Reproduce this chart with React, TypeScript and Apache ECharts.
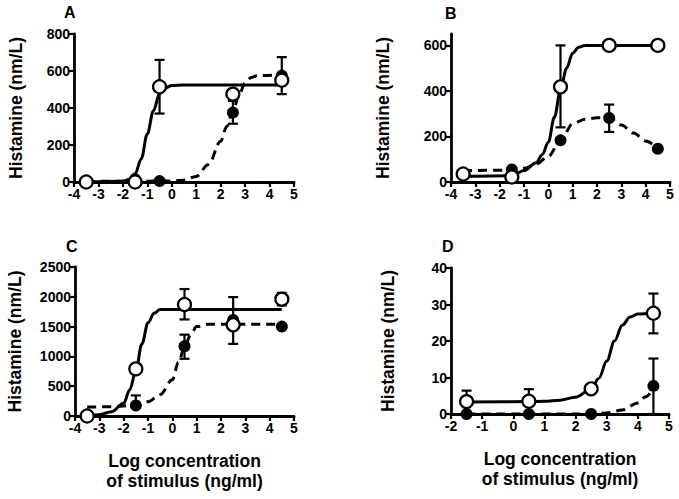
import React, { useEffect, useRef } from "react";
import * as echarts from "echarts";

// ---------- Panel A ----------
const xOpenA = [-3.5, -1.5, -0.5, 2.5, 4.5];
const yOpenA = [0, 0, 515, 475, 550];
const xFilledA = [-1.5, -0.5, 2.5, 4.5];
const yFilledA = [15, 5, 375, 575];
const errA = [
  [-0.5, 370, 660],
  [2.5, 315, 438],
  [4.5, 475, 675],
];
const curveSolidXA = [-3.5, -2, -1.75, -1.5, -1.25, -1, -0.75, -0.5, -0.25, 0, 0.5, 4.5];
const curveSolidYA = [0, 4, 14, 44, 125, 260, 385, 478, 510, 521, 525, 525];
const curveDashXA = [-3.5, 0, 0.5, 1, 1.5, 2, 2.25, 2.5, 2.75, 3, 3.25, 3.5, 4.5];
const curveDashYA = [3, 5, 10, 30, 95, 220, 300, 380, 470, 535, 565, 575, 578];

// ---------- Panel B ----------
const xOpenB = [-3.5, -1.5, 0.5, 2.5, 4.5];
const yOpenB = [35, 22, 418, 600, 600];
const xFilledB = [-1.5, 0.5, 2.5, 4.5];
const yFilledB = [55, 183, 281, 146];
const errB = [
  [0.5, 240, 600],
  [2.5, 220, 340],
];
const curveSolidXB = [-3.5, -1.5, -1, -0.5, -0.25, 0, 0.25, 0.5, 0.75, 1, 1.25, 1.5, 4.5];
const curveSolidYB = [25, 28, 50, 85, 120, 175, 285, 405, 500, 566, 592, 599, 600];
const curveDashXB = [-3.5, -1.5, -1, -0.5, 0, 0.5, 1, 1.5, 2, 2.5, 3, 3.5, 4, 4.5];
const curveDashYB = [50, 52, 60, 78, 113, 183, 255, 276, 282, 281, 250, 215, 180, 146];

// ---------- Panel C ----------
const xOpenC = [-3.5, -1.5, 0.5, 2.5, 4.5];
const yOpenC = [0, 790, 1870, 1530, 1960];
const xFilledC = [-1.5, 0.5, 2.5, 4.5];
const yFilledC = [175, 1170, 1610, 1500];
const errC = [
  [-1.5, 175, 345],
  [0.5, 1620, 2130],
  [0.5, 960, 1365],
  [2.5, 1210, 1995],
  [4.5, 1855, 2065],
];
const curveSolidXC = [-3.5, -3, -2.5, -2, -1.75, -1.5, -1.25, -1, -0.75, -0.5, 4.5];
const curveSolidYC = [3, 22, 70, 215, 440, 760, 1210, 1565, 1725, 1785, 1788];
const curveDashXC = [-3.5, -2.5, -1.5, -1, -0.5, 0, 0.25, 0.5, 0.75, 1, 1.5, 4.5];
const curveDashYC = [150, 155, 180, 240, 360, 610, 900, 1150, 1360, 1500, 1540, 1540];

// ---------- Panel D ----------
const xOpenD = [-1.5, 0.5, 2.5, 4.5];
const yOpenD = [3.4, 3.5, 6.9, 27.6];
const xFilledD = [-1.5, 0.5, 2.5, 4.5];
const yFilledD = [0, 0, 0, 7.7];
const errD = [
  [-1.5, 3.4, 6.4],
  [0.5, 3.5, 6.8],
  [4.5, 22.1, 33],
  [4.5, 0, 15.2],
];
const curveSolidXD = [-1.5, 0.5, 1, 1.5, 2, 2.5, 2.75, 3, 3.25, 3.5, 3.75, 4, 4.5];
const curveSolidYD = [3.3, 3.4, 3.5, 3.8, 4.6, 6.8, 9.8, 14.5, 20, 24.3, 26.6, 27.4, 27.7];
const curveDashXD = [-1.5, 2.5, 3, 3.5, 4, 4.25, 4.5];
const curveDashYD = [0, 0, 0.3, 1.1, 3, 4.7, 7];

// ---------- Axes / labels ----------
const panelLetters = ["A", "B", "C", "D"];
const yTicksA = [0, 200, 400, 600, 800];
const yTicksB = [0, 200, 400, 600];
const yTicksC = [0, 500, 1000, 1500, 2000, 2500];
const yTicksD = [0, 10, 20, 30, 40];
const xTicksABC = [-4, -3, -2, -1, 0, 1, 2, 3, 4, 5];
const xTicksD = [-2, -1, 0, 1, 2, 3, 4, 5];
const yName = "Histamine (nm/L)";
const xName = "Log concentration\nof stimulus (ng/ml)";

const FONT = "'Liberation Sans', Arial, sans-serif";

const zip = (xs: number[], ys: number[]) => xs.map((x, i) => [x, ys[i]]);

const panels = [
  {
    xOpen: xOpenA, yOpen: yOpenA, xFilled: xFilledA, yFilled: yFilledA, err: errA,
    sx: curveSolidXA, sy: curveSolidYA, dx: curveDashXA, dy: curveDashYA,
    yTicks: yTicksA, yMax: 800, xTicks: xTicksABC, xMin: -4,
    grid: { left: 74, top: 34, width: 220, height: 148 }, nameGap: 49, xName: "",
  },
  {
    xOpen: xOpenB, yOpen: yOpenB, xFilled: xFilledB, yFilled: yFilledB, err: errB,
    sx: curveSolidXB, sy: curveSolidYB, dx: curveDashXB, dy: curveDashYB,
    yTicks: yTicksB, yMax: 650, xTicks: xTicksABC, xMin: -4,
    grid: { left: 451, top: 34, width: 219, height: 148 }, nameGap: 59, xName: "",
  },
  {
    xOpen: xOpenC, yOpen: yOpenC, xFilled: xFilledC, yFilled: yFilledC, err: errC,
    sx: curveSolidXC, sy: curveSolidYC, dx: curveDashXC, dy: curveDashYC,
    yTicks: yTicksC, yMax: 2500, xTicks: xTicksABC, xMin: -4,
    grid: { left: 75, top: 267, width: 219, height: 149 }, nameGap: 51, xName: xName,
  },
  {
    xOpen: xOpenD, yOpen: yOpenD, xFilled: xFilledD, yFilled: yFilledD, err: errD,
    sx: curveSolidXD, sy: curveSolidYD, dx: curveDashXD, dy: curveDashYD,
    yTicks: yTicksD, yMax: 40, xTicks: xTicksD, xMin: -2,
    grid: { left: 451, top: 268, width: 218, height: 146 }, nameGap: 54, xName: xName,
  },
];

const titlePos = [
  { left: 64, top: 4 },
  { left: 445, top: 5 },
  { left: 66, top: 238 },
  { left: 442, top: 238 },
];

export default function App() {
  const ref = useRef<HTMLDivElement>(null);
  useEffect(() => {
    if (!ref.current) return;
    const chart = echarts.init(ref.current, undefined, { renderer: "svg" });
    const axisLine = { show: true, onZero: false, lineStyle: { color: "#000", width: 2.8 } };
    const axisTick = (vals: number[]) => ({
      show: true, inside: false, length: 5, customValues: vals,
      lineStyle: { color: "#000", width: 2.2 },
    });
    const labelStyle = { color: "#000", fontFamily: FONT, fontWeight: "bold" as const, fontSize: 14 };

    const grid: any[] = [];
    const xAxis: any[] = [];
    const yAxis: any[] = [];
    const series: any[] = [];

    panels.forEach((p, i) => {
      grid.push({ ...p.grid, containLabel: false });
      xAxis.push({
        type: "value", gridIndex: i, min: p.xMin, max: 5, interval: 1,
        axisLine, axisTick: axisTick(p.xTicks), splitLine: { show: false },
        axisLabel: { ...labelStyle, margin: 5, customValues: p.xTicks, formatter: (v: number) => String(v) },
        name: p.xName, nameLocation: "middle", nameGap: 35,
        nameTextStyle: { color: "#000", fontFamily: FONT, fontWeight: "bold", fontSize: 17.5, lineHeight: 20, verticalAlign: "top" },
      });
      yAxis.push({
        type: "value", gridIndex: i, min: 0, max: p.yMax,
        axisLine, axisTick: axisTick(p.yTicks), splitLine: { show: false },
        axisLabel: { ...labelStyle, margin: 4, customValues: p.yTicks, formatter: (v: number) => String(v) },
        name: yName, nameLocation: "middle", nameGap: p.nameGap, nameRotate: 90,
        nameTextStyle: { color: "#000", fontFamily: FONT, fontWeight: "bold", fontSize: 17.5 },
      });
      series.push({
        type: "line", xAxisIndex: i, yAxisIndex: i, data: zip(p.sx, p.sy),
        showSymbol: false, smooth: 0.35, smoothMonotone: "x", z: 2,
        lineStyle: { color: "#000", width: 3, type: "solid" },
      });
      series.push({
        type: "line", xAxisIndex: i, yAxisIndex: i, data: zip(p.dx, p.dy),
        showSymbol: false, smooth: 0.35, smoothMonotone: "x", z: 2,
        lineStyle: { color: "#000", width: 3, type: [9, 6] },
      });
      series.push({
        type: "custom", xAxisIndex: i, yAxisIndex: i, data: p.err, z: 3,
        encode: { x: 0, y: [1, 2] },
        renderItem: (_params: any, api: any) => {
          const x = api.value(0);
          const lo = api.coord([x, api.value(1)]);
          const hi = api.coord([x, api.value(2)]);
          const w = 5;
          const st = { stroke: "#000", lineWidth: 2.2 };
          return {
            type: "group",
            children: [
              { type: "line", shape: { x1: lo[0], y1: lo[1], x2: hi[0], y2: hi[1] }, style: st },
              { type: "line", shape: { x1: hi[0] - w, y1: hi[1], x2: hi[0] + w, y2: hi[1] }, style: st },
              { type: "line", shape: { x1: lo[0] - w, y1: lo[1], x2: lo[0] + w, y2: lo[1] }, style: st },
            ],
          };
        },
      });
      series.push({
        type: "scatter", xAxisIndex: i, yAxisIndex: i, data: zip(p.xFilled, p.yFilled),
        symbol: "circle", symbolSize: 12, z: 4,
        itemStyle: { color: "#000", opacity: 1 },
      });
      series.push({
        type: "scatter", xAxisIndex: i, yAxisIndex: i, data: zip(p.xOpen, p.yOpen),
        symbol: "circle", symbolSize: 13, z: 5,
        itemStyle: { color: "#fff", borderColor: "#000", borderWidth: 2.2, opacity: 1 },
      });
    });

    chart.setOption({
      animation: false,
      backgroundColor: "#fff",
      title: panelLetters.map((t, i) => ({
        text: t, left: titlePos[i].left, top: titlePos[i].top, padding: 0,
        textStyle: { color: "#000", fontFamily: FONT, fontWeight: "bold", fontSize: 16 },
      })),
      grid, xAxis, yAxis, series,
    });
    return () => chart.dispose();
  }, []);
  return (
    <div
      ref={ref}
      style={{ position: "fixed", left: 0, top: 0, width: 679, height: 499, background: "#fff" }}
    />
  );
}
